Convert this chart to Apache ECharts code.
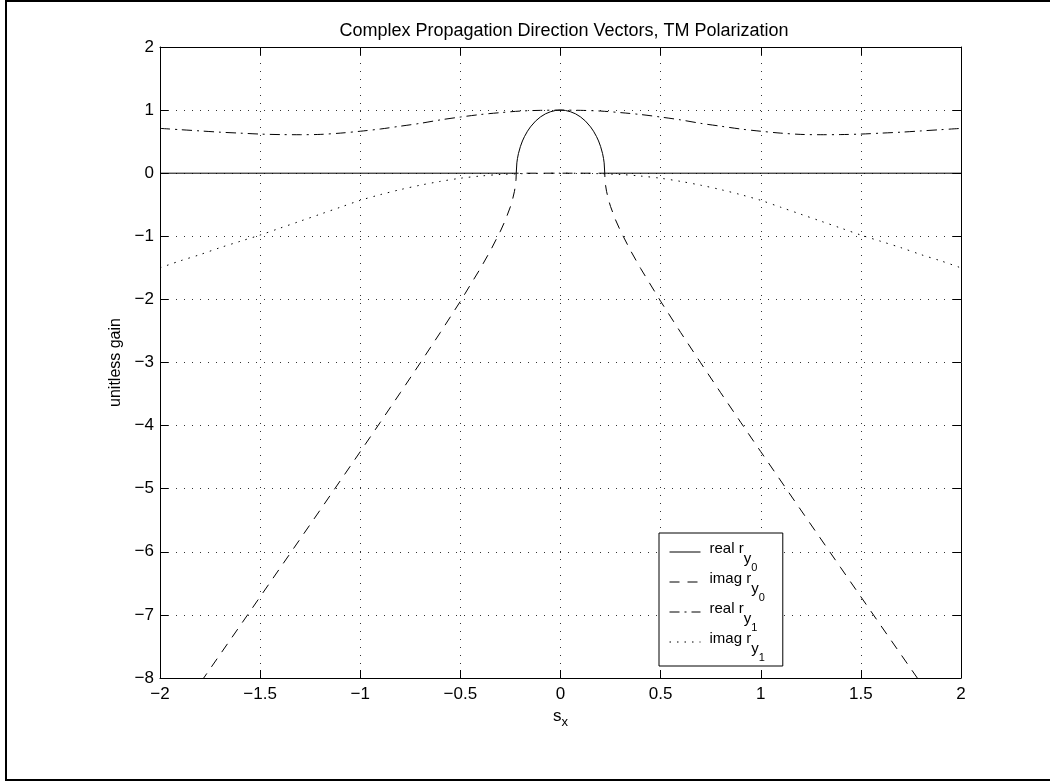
<!DOCTYPE html>
<html><head><meta charset="utf-8">
<script src="https://cdn.jsdelivr.net/npm/echarts@6/dist/echarts.min.js"></script>
<style>html,body{margin:0;padding:0;background:#fff}#c{width:1050px;height:782px}</style>
</head><body><div id="c"></div>
<script>
const chartTitle = 'Complex Propagation Direction Vectors, TM Polarization';
const yAxisName = 'unitless gain';
const seriesNames = ['real r_y0', 'imag r_y0', 'real r_y1', 'imag r_y1'];
const legendWords = ['real', 'imag', 'real', 'imag'];
const legendSubs = ['0', '0', '1', '1'];

const sxRy0Real = [-2, -0.221, -0.218, -0.215, -0.21, -0.2, -0.19, -0.18, -0.165, -0.15, -0.125, -0.1, -0.075, -0.05, -0.025, 0,
  0.025, 0.05, 0.075, 0.1, 0.125, 0.15, 0.165, 0.18, 0.19, 0.2, 0.21, 0.215, 0.218, 0.221, 2];
const realRy0 = [0, 0, 0.164, 0.231, 0.312, 0.425, 0.511, 0.580, 0.665, 0.734, 0.825, 0.892, 0.941, 0.974, 0.994, 1,
  0.994, 0.974, 0.941, 0.892, 0.825, 0.734, 0.665, 0.580, 0.511, 0.425, 0.312, 0.231, 0.164, 0, 0];

const sxRy0Imag = [-2, -1.8, -1.6, -1.4, -1.2, -1.0, -0.9, -0.8, -0.7, -0.6, -0.5, -0.4, -0.35, -0.3, -0.275, -0.25, -0.24, -0.23, -0.225, -0.222, -0.221,
  0.221, 0.222, 0.225, 0.23, 0.24, 0.25, 0.275, 0.3, 0.35, 0.4, 0.5, 0.6, 0.7, 0.8, 0.9, 1.0, 1.2, 1.4, 1.6, 1.8, 2];
const imagRy0 = [-8.994, -8.083, -7.171, -6.255, -5.337, -4.413, -3.948, -3.479, -3.005, -2.524, -2.030, -1.509, -1.228, -0.918, -0.741, -0.529, -0.424, -0.288, -0.191, -0.095, 0,
  0, -0.095, -0.191, -0.288, -0.424, -0.529, -0.741, -0.918, -1.228, -1.509, -2.030, -2.524, -3.005, -3.479, -3.948, -4.413, -5.337, -6.255, -7.171, -8.083, -8.994];

const sxRy1 = [-2, -1.9, -1.8, -1.7, -1.6, -1.5, -1.4, -1.3, -1.2, -1.1, -1.0, -0.9, -0.8, -0.7, -0.6, -0.5, -0.4, -0.3, -0.2, -0.1, 0,
  0.1, 0.2, 0.3, 0.4, 0.5, 0.6, 0.7, 0.8, 0.9, 1.0, 1.1, 1.2, 1.3, 1.4, 1.5, 1.6, 1.7, 1.8, 1.9, 2];
const realRy1 = [0.71, 0.69, 0.67, 0.65, 0.635, 0.62, 0.612, 0.61, 0.615, 0.635, 0.665, 0.70, 0.745, 0.79, 0.845, 0.89, 0.93, 0.96, 0.985, 0.996, 1,
  0.996, 0.985, 0.96, 0.93, 0.89, 0.845, 0.79, 0.745, 0.70, 0.665, 0.635, 0.615, 0.61, 0.612, 0.62, 0.635, 0.65, 0.67, 0.69, 0.71];
const imagRy1 = [-1.5, -1.39, -1.29, -1.18, -1.08, -0.98, -0.87, -0.76, -0.65, -0.54, -0.43, -0.34, -0.26, -0.19, -0.13, -0.08, -0.045, -0.02, -0.008, -0.002, 0,
  -0.002, -0.008, -0.02, -0.045, -0.08, -0.13, -0.19, -0.26, -0.34, -0.43, -0.54, -0.65, -0.76, -0.87, -0.98, -1.08, -1.18, -1.29, -1.39, -1.5];

const FONT = '"Liberation Sans", Arial, Helvetica, sans-serif';
const pairs = (xs, ys) => xs.map((x, i) => [x, ys[i]]);
const fmtTick = v => (v < 0 ? '\u2212' + Math.abs(v) : String(v));

const axisLineStyle = { show: true, onZero: false, lineStyle: { color: '#000', width: 1 } };
const tickStyle = { show: true, inside: true, length: 8, lineStyle: { color: '#000', width: 1 } };
const gridDots = { show: true, lineStyle: { color: '#333', width: 1, type: [1, 7] } };

const chart = echarts.init(document.getElementById('c'), null, { renderer: 'canvas' });
chart.setOption({
  animation: false,
  backgroundColor: '#fff',
  textStyle: { fontFamily: FONT, color: '#000' },
  title: {
    text: chartTitle, left: 564, top: 22, textAlign: 'center', padding: 0,
    textStyle: { fontFamily: FONT, fontSize: 18, fontWeight: 'normal', color: '#000' }
  },
  grid: { left: 160, right: 89, top: 47, bottom: 104, containLabel: false },
  xAxis: [
    {
      type: 'value', min: -2, max: 2, interval: 0.5, position: 'bottom',
      axisLine: axisLineStyle, axisTick: tickStyle, splitLine: gridDots,
      axisLabel: { color: '#000', fontFamily: FONT, fontSize: 17, margin: 8, formatter: fmtTick },
      name: '{s|s}{x|x}', nameLocation: 'middle', nameGap: 24,
      nameTextStyle: {
        rich: {
          s: { fontFamily: FONT, fontSize: 17, lineHeight: 20, verticalAlign: 'top', color: '#000' },
          x: { fontFamily: FONT, fontSize: 13, lineHeight: 20, verticalAlign: 'top', padding: [8, 0, 0, 0], color: '#000' }
        }
      }
    },
    {
      type: 'value', min: -2, max: 2, interval: 0.5, position: 'top',
      axisLine: axisLineStyle, axisTick: tickStyle, splitLine: { show: false }, axisLabel: { show: false }
    }
  ],
  yAxis: [
    {
      type: 'value', min: -8, max: 2, interval: 1, position: 'left',
      axisLine: axisLineStyle, axisTick: tickStyle, splitLine: gridDots,
      axisLabel: { color: '#000', fontFamily: FONT, fontSize: 17, margin: 6, formatter: fmtTick },
      name: yAxisName, nameLocation: 'middle', nameGap: 35, nameRotate: 90,
      nameTextStyle: { fontFamily: FONT, fontSize: 16, color: '#000' }
    },
    {
      type: 'value', min: -8, max: 2, interval: 1, position: 'right',
      axisLine: axisLineStyle, axisTick: tickStyle, splitLine: { show: false }, axisLabel: { show: false }
    }
  ],
  legend: {
    orient: 'vertical', left: 659, top: 533, itemWidth: 31, itemHeight: 14, itemGap: -2,
    padding: [8, 18, 3, 10], borderColor: '#000', borderWidth: 1, borderRadius: 0, backgroundColor: '#fff',
    selectedMode: false, data: seriesNames,
    itemStyle: { opacity: 0, color: 'transparent', borderWidth: 0 },
    lineStyle: { width: 1, color: '#000' },
    formatter: name => {
      const i = seriesNames.indexOf(name);
      return '{a|' + legendWords[i] + ' r}{s|y}{ss|' + legendSubs[i] + '}';
    },
    textStyle: {
      rich: {
        a: { fontFamily: FONT, fontSize: 15, lineHeight: 22, verticalAlign: 'top', padding: [0, 0, 0, 4], color: '#000' },
        s: { fontFamily: FONT, fontSize: 15, lineHeight: 22, verticalAlign: 'top', padding: [10, 0, 0, 0], color: '#000' },
        ss: { fontFamily: FONT, fontSize: 11, lineHeight: 22, verticalAlign: 'top', padding: [21, 0, 0, 0], color: '#000' }
      }
    }
  },
  graphic: [{
    type: 'rect', silent: true, z: -1,
    shape: { x: 6, y: 1, width: 1050, height: 779 },
    style: { fill: null, stroke: '#000', lineWidth: 2 }
  }],
  series: [
    { name: seriesNames[0], type: 'line', symbol: 'none', data: pairs(sxRy0Real, realRy0),
      lineStyle: { color: '#000', width: 1, type: 'solid' }, itemStyle: { color: '#000' }, z: 5 },
    { name: seriesNames[1], type: 'line', symbol: 'none', data: pairs(sxRy0Imag, imagRy0),
      lineStyle: { color: '#000', width: 1, type: [10, 8] }, itemStyle: { color: '#000' }, z: 4 },
    { name: seriesNames[2], type: 'line', symbol: 'none', smooth: 0.3, data: pairs(sxRy1, realRy1),
      lineStyle: { color: '#000', width: 1, type: [10, 5, 2, 5] }, itemStyle: { color: '#000' }, z: 3 },
    { name: seriesNames[3], type: 'line', symbol: 'none', smooth: 0.3, data: pairs(sxRy1, imagRy1),
      lineStyle: { color: '#000', width: 1, type: [1.5, 6] }, itemStyle: { color: '#000' }, z: 2 }
  ]
});
</script></body></html>
